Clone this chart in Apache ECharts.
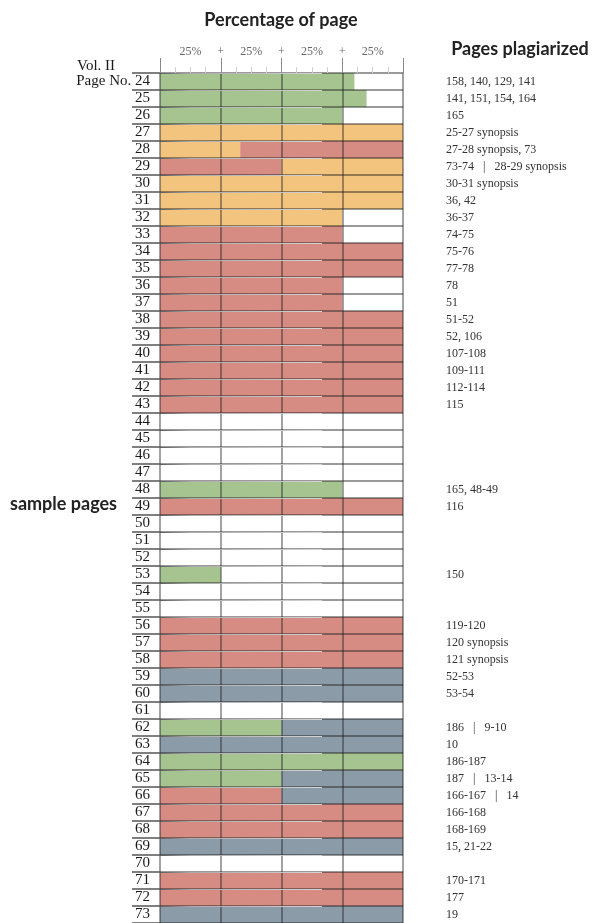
<!DOCTYPE html>
<html>
<head>
<meta charset="utf-8">
<script src="https://cdn.jsdelivr.net/npm/echarts@6/dist/echarts.min.js"></script>
<style>html,body{margin:0;padding:0;background:#fff;}#c{width:592px;height:923px;}</style>
</head>
<body>
<div id="c"></div>
<script>
// Page numbers (Vol. II)
const pages = ['24','25','26','27','28','29','30','31','32','33','34','35','36','37','38','39','40','41','42','43','44','45','46','47','48','49','50','51','52','53','54','55','56','57','58','59','60','61','62','63','64','65','66','67','68','69','70','71','72','73'];
// First segment of each bar: kind (G=green, O=orange, R=red, S=slate) and percentage
const firstKind = ['G','G','G','O','O','R','O','O','O','R','R','R','R','R','R','R','R','R','R','R','','','','','G','R','','','','G','','','R','R','R','S','S','','G','S','G','G','R','R','R','S','','R','R','S'];
const firstPct  = [80,85,75,100,33,50,100,100,75,75,100,100,75,75,100,100,100,100,100,100,0,0,0,0,75,100,0,0,0,25,0,0,100,100,100,100,100,0,50,100,100,50,50,100,100,100,0,100,100,100];
// Second segment of each bar
const secondKind = ['','','','','R','O','','','','','','','','','','','','','','','','','','','','','','','','','','','','','','','','','S','','','S','S','','','','','','',''];
const secondPct  = [0,0,0,0,67,50,0,0,0,0,0,0,0,0,0,0,0,0,0,0,0,0,0,0,0,0,0,0,0,0,0,0,0,0,0,0,0,0,50,0,0,50,50,0,0,0,0,0,0,0];
// Pages plagiarized (right column)
const plagiarized = ['158, 140, 129, 141','141, 151, 154, 164','165','25-27 synopsis','27-28 synopsis, 73','73-74   |   28-29 synopsis','30-31 synopsis','36, 42','36-37','74-75','75-76','77-78','78','51','51-52','52, 106','107-108','109-111','112-114','115','','','','','165, 48-49','116','','','','150','','','119-120','120 synopsis','121 synopsis','52-53','53-54','','186   |   9-10','10','186-187','187   |   13-14','166-167   |   14','166-168','168-169','15, 21-22','','170-171','177','19'];
// Top axis tick labels
const topTickLabels = {12.5:'25%', 25:'+', 37.5:'25%', 50:'+', 62.5:'25%', 75:'+', 87.5:'25%'};

const kindColor = {G:'#a5c48f', O:'#f3c47e', R:'#d68c82', S:'#8c9ba8'};

function mk(kinds, vals){
  return vals.map((v,i)=>({value:v, itemStyle:{color: kindColor[kinds[i]] || 'rgba(0,0,0,0)'}}));
}

const serif = '"Liberation Serif", "DejaVu Serif", serif';
const sans = 'Lato, "Open Sans", sans-serif';

const chart = echarts.init(document.getElementById('c'), null, {renderer:'canvas'});
chart.setOption({
  animation:false,
  backgroundColor:'#fff',
  grid:{left:160, right:189, top:73, bottom:0, containLabel:false},
  xAxis:[
    {type:'value', position:'top', min:0, max:100, interval:12.5, z:6,
     axisLine:{show:false}, axisTick:{show:false}, splitLine:{show:false},
     axisLabel:{margin:15, fontFamily:serif, fontSize:12, color:'#666',
       formatter:(v)=> topTickLabels[v] || ''}},
    {type:'value', position:'top', min:0, max:100, interval:25, z:5,
     axisLine:{show:false},
     axisLabel:{show:false},
     axisTick:{show:true, length:15, lineStyle:{color:'#8a8a8a', width:1}},
     minorTick:{show:true, splitNumber:4, length:6, lineStyle:{color:'#cfcfcf', width:1}},
     splitLine:{show:true, lineStyle:{color:'rgba(30,30,30,0.55)', width:1.5}}}
  ],
  yAxis:[
    {type:'category', inverse:true, data:pages, position:'left', z:5,
     axisLine:{show:false},
     axisTick:{show:true, interval:0, length:28, lineStyle:{color:'#555', width:1.5}},
     splitLine:{show:true, interval:0, lineStyle:{color:'rgba(30,30,30,0.6)', width:1.5}},
     axisLabel:{interval:0, margin:10, fontFamily:serif, fontSize:15, color:'#1a1a1a',
       formatter:(v,i)=> i===0 ? 'Page No. ' + v : v}},
    {type:'category', inverse:true, data:pages, position:'right', z:5,
     axisLine:{show:false},
     axisTick:{show:true, interval:0, length:162, lineStyle:{width:1.2, color:{type:'linear', x:0, y:0, x2:1, y2:0, colorStops:[{offset:0,color:'#555'},{offset:0.2,color:'#aaa'},{offset:1,color:'#d5d5d5'}]}}},
     splitLine:{show:false},
     axisLabel:{interval:0, margin:43, align:'left', fontFamily:serif, fontSize:12, color:'#333',
       formatter:(v,i)=> plagiarized[i]}}
  ],
  series:[
    {type:'bar', name:'first', stack:'p', xAxisIndex:1, yAxisIndex:0, barCategoryGap:'0%', data:mk(firstKind, firstPct), z:2},
    {type:'bar', name:'second', stack:'p', xAxisIndex:1, yAxisIndex:0, barCategoryGap:'0%', data:mk(secondKind, secondPct), z:2}
  ],
  graphic:[
    {type:'text', x:281, y:20, style:{text:'Percentage of page', font:'bold 18px ' + sans, fill:'#222', align:'center', verticalAlign:'middle'}},
    {type:'text', x:520, y:49, style:{text:'Pages plagiarized', font:'bold 18px ' + sans, fill:'#222', align:'center', verticalAlign:'middle'}},
    {type:'text', x:77, y:66, style:{text:'Vol. II', font:'15px ' + serif, fill:'#1a1a1a', align:'left', verticalAlign:'middle'}},
    {type:'text', x:10, y:504, style:{text:'sample pages', font:'bold 18px ' + sans, fill:'#222', align:'left', verticalAlign:'middle'}}
  ]
});
</script>
</body>
</html>
